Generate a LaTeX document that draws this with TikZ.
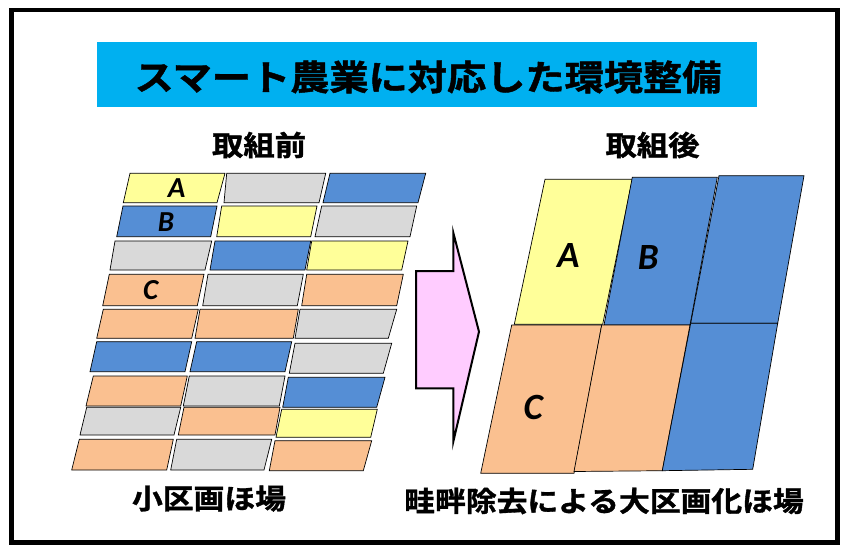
\documentclass[tikz,border=0pt]{standalone}
\usepackage{fontspec}
\newfontfamily\jpfont{Noto Sans CJK JP Bold}[FakeBold=1.2]
\newfontfamily\latfont{Carlito}
\definecolor{cyanbox}{HTML}{00B0F0}
\definecolor{fyel}{HTML}{FFFF99}
\definecolor{fgry}{HTML}{D9D9D9}
\definecolor{fblu}{HTML}{558ED5}
\definecolor{forg}{HTML}{FAC090}
\definecolor{fpink}{HTML}{FFCCFF}
\tikzset{
  cell/.style={draw=black, line width=0.7pt, line join=miter},
  Y/.style={cell, fill=fyel},
  G/.style={cell, fill=fgry},
  Bl/.style={cell, fill=fblu},
  O/.style={cell, fill=forg},
  jtxt/.style={inner sep=0pt, text=black},
  letS/.style={inner sep=0pt, font=\latfont\bfseries\itshape\fontsize{29}{29}\selectfont},
  letL/.style={inner sep=0pt, font=\latfont\bfseries\itshape\fontsize{37}{37}\selectfont},
}
% cell: #1 style, top y, bottom y, top-left x, top-right x, bottom-left x, bottom-right x
\newcommand\mycell[7]{\path[#1] (#4,#2) -- (#5,#2) -- (#7,#3) -- (#6,#3) -- cycle;}
\begin{document}
\begin{tikzpicture}[x=1pt,y=-1pt]
\useasboundingbox (0,0) rectangle (841,546);
\fill[white] (0,0) rectangle (841,546);
% frame
\draw[line width=4.5pt] (11.5,10) rectangle (837.5,542.5);
% title
\fill[cyanbox] (97,42) rectangle (757,107);
\node[jtxt] (title) at (428,77) {\scalebox{1.12}[1]{\jpfont\fontsize{35}{35}\selectfont スマート農業に対応した環境整備}};
% headings
\node[jtxt] (before) at (259,145) {\scalebox{1.12}[1]{\jpfont\fontsize{28}{28}\selectfont 取組前}};
\node[jtxt] (after) at (652.5,145) {\scalebox{1.12}[1]{\jpfont\fontsize{28}{28}\selectfont 取組後}};
\node[jtxt] (small) at (209,498.5) {\scalebox{1.1}[1]{\jpfont\fontsize{28}{28}\selectfont 小区画ほ場}};
\node[jtxt] (large) at (604,501) {\scalebox{1.1}[1]{\jpfont\fontsize{28}{28}\selectfont 畦畔除去による大区画化ほ場}};
% left grid
\mycell{Y}{173.3}{202.7}{130}{225}{123.3}{217}
\mycell{G}{173.3}{202.7}{226.7}{325.7}{224}{319}
\mycell{Bl}{173.3}{202.7}{330}{425.7}{323}{418}
\mycell{Bl}{206}{236.7}{123}{217}{116.7}{210.7}
\mycell{Y}{206}{236.7}{221.7}{317}{216.7}{310.7}
\mycell{G}{206}{236.7}{321.7}{416.7}{315}{410}
\mycell{G}{241}{270}{115}{211.7}{110}{205}
\mycell{Bl}{241}{270}{215}{310.7}{210}{305}
\mycell{Y}{241}{270}{311.7}{408}{306.7}{401.7}
\mycell{O}{274.3}{305.7}{109.3}{204}{102.7}{197.3}
\mycell{G}{274.3}{305.7}{208}{303.3}{202.7}{297.3}
\mycell{O}{274.3}{305.7}{306.7}{403.3}{301.7}{396.7}
\mycell{O}{309.3}{338.3}{103.3}{198.3}{96.7}{191.7}
\mycell{O}{309.3}{338.3}{200}{298.3}{195}{293.3}
\mycell{G}{309.3}{338.3}{300}{396.7}{295}{388.3}
\mycell{Bl}{341.7}{371.7}{96.7}{191.7}{90}{185}
\mycell{Bl}{341.7}{371.7}{196.7}{291.7}{190}{285}
\mycell{G}{343.3}{373.3}{295}{391.7}{289.3}{383.3}
\mycell{O}{376}{406}{93.3}{187.3}{86}{180.7}
\mycell{G}{376}{406}{189.3}{285}{183.3}{279.3}
\mycell{Bl}{377.3}{407.3}{288.3}{385}{282.7}{376.7}
\mycell{G}{407.3}{435}{86.7}{180.7}{80}{174}
\mycell{O}{407.3}{435}{184}{280}{178.3}{275}
\mycell{Y}{409.3}{437.3}{281.7}{377.3}{276}{370.7}
\mycell{O}{439.3}{470}{79.3}{173.3}{71.7}{166.7}
\mycell{G}{439.3}{470}{176.7}{271.7}{170.7}{264}
\mycell{O}{440.7}{470.7}{275}{371.7}{269.3}{363.3}
\node[letS] (lA) at (176.7,188) {A};
\node[letS] (lB) at (166,222) {B};
\node[letS] (lC) at (150.7,290) {C};
% arrow
\draw[fill=fpink, line width=2pt, line join=miter]
  (416,271) -- (453.3,271) -- (453.3,232.7) -- (479,331.7) -- (453.3,441.7)
  -- (453.3,388.3) -- (416,388.3) -- cycle;
% right grid
\path[Y] (545,179.3) -- (632.3,179.3) -- (602.7,324.3) -- (514.3,324.3) -- cycle;
\path[Bl] (632.3,177.3) -- (717.3,177.3) -- (690,325) -- (604,325) -- cycle;
\path[Bl] (719,175.7) -- (804,175.7) -- (777.7,323.3) -- (690.7,323.3) -- cycle;
\path[O] (511.7,325) -- (601.7,325) -- (574,473.3) -- (480.7,473.3) -- cycle;
\path[O] (601.7,325) -- (690,325) -- (662.3,470.7) -- (574,471.5) -- cycle;
\path[Bl] (690.7,323.3) -- (777.7,323.3) -- (752.7,469.3) -- (662.3,470.7) -- cycle;
\node[letL] (rA) at (568.3,256) {A};
\node[letL] (rB) at (648.3,258) {B};
\node[letL] (rC) at (533.3,407) {C};
\end{tikzpicture}
\end{document}
